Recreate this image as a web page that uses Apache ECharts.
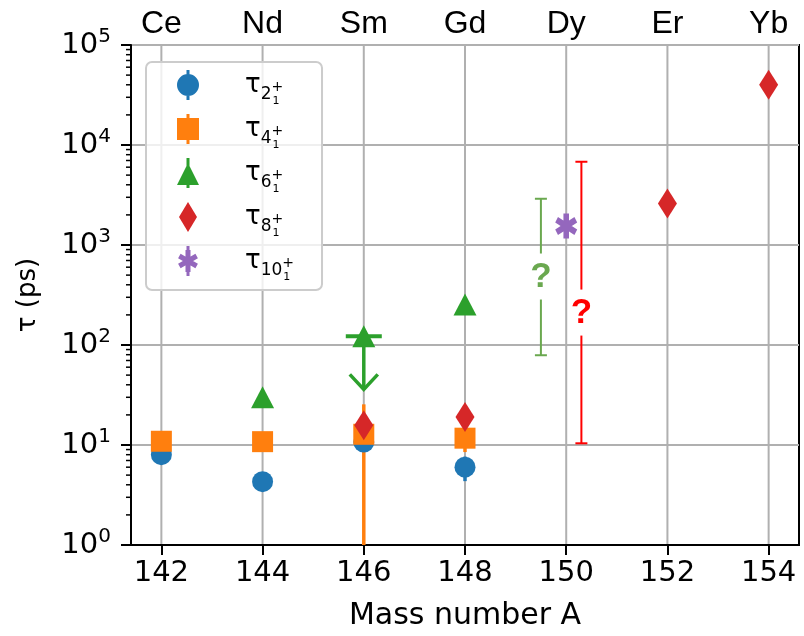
<!DOCTYPE html>
<html>
<head>
<meta charset="utf-8">
<script src="https://cdn.jsdelivr.net/npm/echarts@6/dist/echarts.min.js"></script>
<style>
  html, body { margin: 0; padding: 0; background: #fff; }
  #chart { width: 804px; height: 636px; }
</style>
</head>
<body>
<div id="chart"></div>
<script>
// axis data
const massNumbers = [142, 144, 146, 148, 150, 152, 154]
const elements = ['Ce', 'Nd', 'Sm', 'Gd', 'Dy', 'Er', 'Yb']
const minorTicks = [2, 3, 4, 5, 6, 7, 8, 9, 20, 30, 40, 50, 60, 70, 80, 90,
  200, 300, 400, 500, 600, 700, 800, 900, 2000, 3000, 4000, 5000, 6000, 7000, 8000, 9000,
  20000, 30000, 40000, 50000, 60000, 70000, 80000, 90000]

// lifetimes (ps)
const tau2A = [142, 144, 146, 148]
const tau2 = [8.0, 4.3, 10.7, 6.0]
const tau2Err = [0.6, 0.3, 1.0, 1.65]

const tau4A = [142, 144, 146, 148]
const tau4 = [10.9, 10.8, 12.8, 11.7]
const tau4Err = [0.8, 0.8, 12.7, 3.2]

const tau6A = [144, 146, 148]
const tau6 = [30, 122, 254]
const tau6Err = [4, 86, 30]
const tau6UpperLimit = [0, 1, 0]

const tau8A = [146, 148, 152, 154]
const tau8 = [15.8, 19.0, 2600, 40000]
const tau8Err = [2, 3, 300, 5000]

const tau10A = [150]
const tau10 = [1550]
const tau10Err = [200]

// uncertain ranges marked with "?"
const questionA = [149.5, 150.3]
const questionLow = [79, 10.4]
const questionHigh = [2900, 6800]
const questionMid = [484, 211]
const questionColors = ['#6aa84f', '#ff0000']

const bar = 'M-1.5,-15L1.5,-15L1.5,15L-1.5,15Z'
const asterisk = 'M-2.5,-10L2.5,-10L2.5,10L-2.5,10Z' +
  'M7.41,-7.165L9.91,-2.835L-7.41,7.165L-9.91,2.835Z' +
  'M-9.91,-2.835L-7.41,-7.165L9.91,2.835L7.41,7.165Z'

const states = [
  { j: 2, a: tau2A, v: tau2, err: tau2Err, color: '#1f77b4', symbol: 'circle', size: 21,
    icon: 'path://M0,-11A11,11,0,1,1,0,11A11,11,0,1,1,0,-11Z' + bar },
  { j: 4, a: tau4A, v: tau4, err: tau4Err, color: '#ff7f0e', symbol: 'rect', size: 21,
    icon: 'path://M-11,-11L11,-11L11,11L-11,11Z' + bar },
  { j: 6, a: tau6A, v: tau6, err: tau6Err, lim: tau6UpperLimit, color: '#2ca02c', symbol: 'triangle', size: [23, 22],
    icon: 'path://M0,-11L11,11L-11,11Z' + 'M-1.5,-16L1.5,-16L1.5,14L-1.5,14Z' },
  { j: 8, a: tau8A, v: tau8, err: tau8Err, color: '#d62728', symbol: 'diamond', size: [19, 30],
    icon: 'path://M0,-15L9,0L0,15L-9,0Z' },
  { j: 10, a: tau10A, v: tau10, err: tau10Err, color: '#9467bd', symbol: 'path://' + asterisk, size: [22, 25],
    icon: 'path://' + asterisk.replace(/10/g, '11') + bar }
]

const chart = echarts.init(document.getElementById('chart'))

const gridLineColor = '#b0b0b0'

function errorBarItem(color) {
  return function (params, api) {
    const x = api.value(0)
    const lo = api.value(1)
    const hi = api.value(2)
    const lim = api.value(3)
    const y = api.value(4)
    const style = { stroke: color, lineWidth: 3.5 }
    if (lim) {
      const p = api.coord([x, y])
      const q = api.coord([x, lo])
      return {
        type: 'group',
        children: [
          { type: 'line', shape: { x1: p[0], y1: p[1], x2: q[0], y2: q[1] }, style },
          { type: 'line', shape: { x1: p[0] - 18, y1: p[1], x2: p[0] + 18, y2: p[1] }, style: { stroke: color, lineWidth: 4 } },
          { type: 'polyline', shape: { points: [[q[0] - 14, q[1] - 15], [q[0], q[1]], [q[0] + 14, q[1] - 15]] }, style: { stroke: color, lineWidth: 3.5, fill: null } }
        ]
      }
    }
    const top = api.coord([x, hi])
    const bot = api.coord([x, lo])
    return { type: 'line', shape: { x1: top[0], y1: top[1], x2: bot[0], y2: bot[1] }, style }
  }
}

const series = []

// vertical grid lines
series.push({
  type: 'custom',
  silent: true,
  z: 0,
  data: massNumbers,
  renderItem: (params, api) => {
    const cs = params.coordSys
    const x = api.coord([api.value(0), 1])[0]
    return { type: 'line', shape: { x1: x, y1: cs.y, x2: x, y2: cs.y + cs.height }, style: { stroke: gridLineColor, lineWidth: 2 } }
  }
})

// error bars (drawn below all markers)
states.forEach(s => {
  series.push({
    type: 'custom',
    name: 'err' + s.j,
    silent: true,
    clip: true,
    z: 2,
    data: s.a.map((a, i) => [a, s.v[i] - s.err[i], s.v[i] + s.err[i], s.lim ? s.lim[i] : 0, s.v[i]]),
    renderItem: errorBarItem(s.color)
  })
})

// markers
states.forEach(s => {
  series.push({
    type: 'scatter',
    name: 'tau' + s.j,
    symbol: s.symbol,
    symbolSize: s.size,
    z: 3,
    itemStyle: { color: s.color, opacity: 1 },
    data: s.a.map((a, i) => [a, s.v[i]])
  })
})

// "?" ranges
series.push({
  type: 'custom',
  silent: true,
  z: 3,
  data: questionA.map((a, i) => [a, questionLow[i], questionHigh[i], questionMid[i], i]),
  renderItem: (params, api) => {
    const x = api.value(0)
    const lo = api.coord([x, api.value(1)])
    const hi = api.coord([x, api.value(2)])
    const mid = api.coord([x, api.value(3)])
    const color = questionColors[api.value(4)]
    const st = { stroke: color, lineWidth: 2 }
    const gap = 23
    return {
      type: 'group',
      children: [
        { type: 'line', shape: { x1: hi[0], y1: hi[1], x2: mid[0], y2: mid[1] - gap }, style: st },
        { type: 'line', shape: { x1: mid[0], y1: mid[1] + gap, x2: lo[0], y2: lo[1] }, style: st },
        { type: 'line', shape: { x1: hi[0] - 6, y1: hi[1], x2: hi[0] + 6, y2: hi[1] }, style: st },
        { type: 'line', shape: { x1: lo[0] - 6, y1: lo[1], x2: lo[0] + 6, y2: lo[1] }, style: st },
        {
          type: 'text',
          style: {
            text: '?', x: mid[0], y: mid[1] + 1, fill: color,
            font: 'bold 35px "Liberation Sans"',
            align: 'center', verticalAlign: 'middle',
            textAlign: 'center', textVerticalAlign: 'middle'
          }
        }
      ]
    }
  }
})

// minor log ticks on the y axis
series.push({
  type: 'custom',
  silent: true,
  clip: false,
  z: 5,
  data: minorTicks,
  renderItem: (params, api) => {
    const cs = params.coordSys
    const y = api.coord([massNumbers[0], api.value(0)])[1]
    return { type: 'line', shape: { x1: cs.x - 5, y1: y, x2: cs.x, y2: y }, style: { stroke: '#000', lineWidth: 1.5 } }
  }
})

const option = {
  backgroundColor: '#fff',
  animation: false,
  grid: {
    left: 131, right: 5, top: 45, bottom: 90,
    show: true, borderColor: '#000', borderWidth: 2
  },
  legend: {
    orient: 'vertical',
    left: 146,
    top: 62,
    padding: [8, 28, 7, 31],
    itemWidth: 30,
    itemHeight: 30,
    itemGap: 7,
    backgroundColor: 'rgba(255,255,255,0.8)',
    borderColor: '#cccccc',
    borderWidth: 2,
    borderRadius: 6,
    selectedMode: false,
    data: states.map(s => ({ name: 'tau' + s.j, icon: s.icon })),
    formatter: name => '{gap| }{tau|τ}{sub|' + name.replace('tau', '') + '}{sup|+}{low|1}',
    textStyle: {
      color: '#000',
      fontFamily: 'DejaVu Sans',
      rich: {
        gap: { width: 37, lineHeight: 46 },
        tau: { fontSize: 26, fontFamily: 'DejaVu Sans' },
        sub: { fontSize: 17, padding: [19, 0, 0, 0], fontFamily: 'DejaVu Sans' },
        sup: { fontSize: 14, padding: [4, 0, 0, 0], width: 1, fontFamily: 'DejaVu Sans' },
        low: { fontSize: 11, padding: [33, 0, 0, 0], fontFamily: 'DejaVu Sans' }
      }
    }
  },
  xAxis: [
    {
      type: 'value',
      min: 141.4,
      max: 154.6,
      name: 'Mass number A',
      nameLocation: 'middle',
      nameGap: 56,
      nameTextStyle: { fontSize: 30, fontFamily: 'DejaVu Sans', color: '#000' },
      axisLine: { show: true, lineStyle: { color: '#000', width: 2 } },
      axisTick: { show: true, length: 10, lineStyle: { color: '#000', width: 2 }, customValues: massNumbers },
      axisLabel: { customValues: massNumbers, margin: 14, fontSize: 29, fontFamily: 'DejaVu Sans', color: '#000' },
      splitLine: { show: false }
    },
    {
      type: 'value',
      position: 'top',
      min: 141.4,
      max: 154.6,
      axisLine: { show: false },
      axisTick: { show: false },
      axisLabel: {
        customValues: massNumbers,
        margin: 5,
        fontSize: 32,
        fontFamily: 'Liberation Sans',
        color: '#000',
        formatter: v => elements[massNumbers.indexOf(Math.round(v))] || ''
      },
      splitLine: { show: false }
    }
  ],
  yAxis: {
    type: 'log',
    logBase: 10,
    min: 1,
    max: 100000,
    name: 'τ (ps)',
    nameLocation: 'middle',
    nameGap: 90,
    nameTextStyle: { fontSize: 26, fontFamily: 'DejaVu Sans', color: '#000' },
    axisLine: { show: true, lineStyle: { color: '#000', width: 2 } },
    axisTick: { show: true, length: 10, lineStyle: { color: '#000', width: 2 } },
    axisLabel: {
      margin: 20,
      color: '#000',
      formatter: v => '{b|10}{s|' + Math.round(Math.log10(v)) + '}',
      rich: {
        b: { fontSize: 29, fontFamily: 'DejaVu Sans', color: '#000' },
        s: { fontSize: 20, fontFamily: 'DejaVu Sans', color: '#000', padding: [0, 0, 16, 0] }
      }
    },
    splitLine: { show: true, lineStyle: { color: gridLineColor, width: 2 } }
  },
  series: series
}

chart.setOption(option)
</script>
</body>
</html>
